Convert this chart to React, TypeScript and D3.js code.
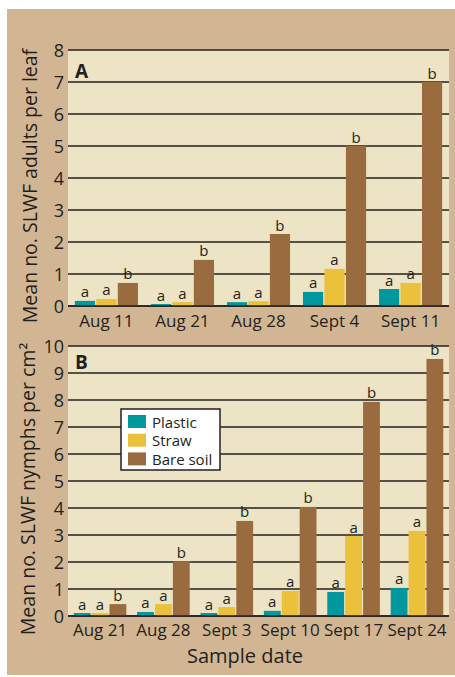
import React from 'react';
import * as d3 from 'd3';

const series = ['Plastic', 'Straw', 'Bare soil'];
const seriesColors = ['#00989e', '#ebc03b', '#9b6b40'];
const seriesLetters = ['a', 'a', 'b'];

const datesA = ['Aug 11', 'Aug 21', 'Aug 28', 'Sept 4', 'Sept 11'];
const plasticA = [0.16, 0.06, 0.12, 0.44, 0.53];
const strawA = [0.22, 0.12, 0.15, 1.16, 0.72];
const bareA = [0.72, 1.44, 2.25, 5.0, 7.0];

const datesB = ['Aug 21', 'Aug 28', 'Sept 3', 'Sept 10', 'Sept 17', 'Sept 24'];
const plasticB = [0.11, 0.15, 0.11, 0.19, 0.89, 1.04];
const strawB = [0.11, 0.44, 0.33, 0.93, 2.96, 3.15];
const bareB = [0.44, 2.03, 3.52, 4.04, 7.93, 9.52];

const W = 455;
const H = 677;
const FONT = '"Open Sans", "Noto Sans", sans-serif';
const INK = '#231f20';
const left = 68;
const right = 449;

type PanelProps = {
  tag: string;
  tagY: number;
  dates: string[];
  values: number[][];
  yMax: number;
  top: number;
  bottom: number;
  yTitle: string;
  titleX: number;
  labelY: number;
};

const Panel = ({ tag, tagY, dates, values, yMax, top, bottom, yTitle, titleX, labelY }: PanelProps) => {
  const x = d3.scaleBand<string>().domain(dates).range([left, right]).paddingInner(0.17).paddingOuter(0.09);
  const sub = d3.scaleBand<string>().domain(series).range([0, x.bandwidth()]).paddingInner(0.06);
  const y = d3.scaleLinear().domain([0, yMax]).range([bottom, top]);
  const ticks = d3.range(0, yMax + 1);

  return (
    <g>
      <rect x={left} y={top} width={right - left} height={bottom - top} fill="#ece4c4" />
      {ticks.map((t) => (
        <g key={t}>
          <line x1={left} x2={right} y1={y(t)} y2={y(t)} stroke={INK} strokeWidth={1.6} />
          <text x={64} y={y(t)} textAnchor="end" dominantBaseline="central" fontSize={18} fill={INK}>
            {t}
          </text>
        </g>
      ))}
      {dates.map((d, i) => (
        <g key={d} transform={`translate(${x(d)},0)`}>
          {series.map((s, j) => {
            const v = values[j][i];
            const bx = sub(s) ?? 0;
            return (
              <g key={s}>
                <rect x={bx} y={y(v)} width={sub.bandwidth()} height={y(0) - y(v)} fill={seriesColors[j]} />
                <text x={bx + sub.bandwidth() / 2} y={y(v) - 3.5} textAnchor="middle" fontSize={15} fill={INK}>
                  {seriesLetters[j]}
                </text>
              </g>
            );
          })}
          <text x={x.bandwidth() / 2} y={labelY} textAnchor="middle" fontSize={17} fill={INK}>
            {d}
          </text>
        </g>
      ))}
      <line x1={left} x2={right} y1={y(0)} y2={y(0)} stroke={INK} strokeWidth={1.6} />
      <text x={75} y={tagY} fontSize={19} fontWeight="bold" fill={INK}>
        {tag}
      </text>
      <text
        transform={`translate(${titleX},${(top + bottom + 16) / 2}) rotate(-90)`}
        textAnchor="middle"
        fontSize={19.5}
        fill={INK}
      >
        {yTitle}
      </text>
    </g>
  );
};

export default function App() {
  return (
    <svg
      width={W}
      height={H}
      style={{ position: 'absolute', left: 0, top: 0, fontFamily: FONT }}
    >
      <rect width={W} height={H} fill="#fff" />
      <rect x={7} y={9} width={W - 7} height={666} fill="#d2b693" />
      <Panel
        tag="A"
        tagY={78}
        dates={datesA}
        values={[plasticA, strawA, bareA]}
        yMax={8}
        top={50}
        bottom={306}
        yTitle="Mean no. SLWF adults per leaf"
        titleX={37}
        labelY={327}
      />
      <Panel
        tag="B"
        tagY={369}
        dates={datesB}
        values={[plasticB, strawB, bareB]}
        yMax={10}
        top={346}
        bottom={616}
        yTitle="Mean no. SLWF nymphs per cm²"
        titleX={35}
        labelY={636}
      />
      {/* legend */}
      <g transform="translate(121,409)">
        <rect width={99} height={61} fill="#fff" stroke={INK} strokeWidth={1.5} />
        {series.map((s, i) => (
          <g key={s} transform={`translate(7,${6 + i * 18.7})`}>
            <rect width={18} height={13} fill={seriesColors[i]} />
            <text x={24} y={6.5} dominantBaseline="central" fontSize={15} fill={INK}>
              {s}
            </text>
          </g>
        ))}
      </g>
      <text x={245} y={663} textAnchor="middle" fontSize={20} fill={INK}>
        Sample date
      </text>
    </svg>
  );
}
